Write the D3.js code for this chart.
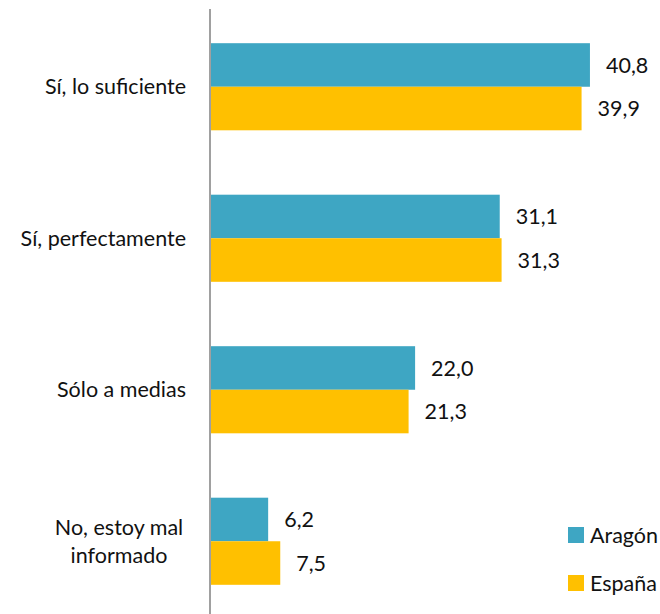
<!DOCTYPE html>
<html><head><meta charset="utf-8">
<script src="https://cdn.jsdelivr.net/npm/d3@7"></script>
<style>body{margin:0;background:#fff}svg{display:block}text{font-family:Lato,"Open Sans",sans-serif;fill:#111}</style>
</head><body>
<script>
const categories = [["Sí, lo suficiente"], ["Sí, perfectamente"], ["Sólo a medias"], ["No, estoy mal", "informado"]];
const series = ["Aragón", "España"];
const aragon = [40.8, 31.1, 22.0, 6.2];
const espana = [39.9, 31.3, 21.3, 7.5];
const colors = ["#3ea6c3", "#ffc000"];

const W = 660, H = 614, FS = 21.5;
const svg = d3.select("body").append("svg").attr("width", W).attr("height", H);
const keys = categories.map(c => c.join(" "));
const y = d3.scaleBand().domain(keys).range([11, 617]).paddingInner(0.425).paddingOuter(0.2125);
const ySub = d3.scaleBand().domain(series).range([0, y.bandwidth()]);
const x = d3.scaleLinear().domain([0, 45]).range([210.5, 210.5 + 45 * 9.3]);
const fmt = v => d3.format(".1f")(v).replace(".", ",");

const data = [];
keys.forEach((k, i) => {
  data.push({k, s: "Aragón", v: aragon[i], c: colors[0]});
  data.push({k, s: "España", v: espana[i], c: colors[1]});
});

const g = svg.append("g");
g.selectAll("rect").data(data).join("rect")
  .attr("x", x(0)).attr("y", d => y(d.k) + ySub(d.s))
  .attr("width", d => x(d.v) - x(0)).attr("height", ySub.bandwidth())
  .attr("fill", d => d.c);
g.selectAll("text.val").data(data).join("text").attr("class", "val")
  .attr("x", d => x(d.v) + 16).attr("y", d => y(d.k) + ySub(d.s) + ySub.bandwidth() / 2)
  .attr("dy", "0.36em").attr("font-size", FS).text(d => fmt(d.v));

svg.append("line").attr("x1", 210).attr("x2", 210).attr("y1", 9).attr("y2", H)
  .attr("stroke", "#a0a0a0").attr("stroke-width", 2);

categories.forEach((lines, i) => {
  const cy = y(keys[i]) + y.bandwidth() / 2;
  const multi = lines.length > 1;
  const t = svg.append("text").attr("font-size", FS)
    .attr("text-anchor", multi ? "middle" : "end");
  lines.forEach((l, j) => {
    t.append("tspan").attr("x", multi ? 119 : 186)
      .attr("y", cy + (j - (lines.length - 1) / 2) * 28).attr("dy", "0.36em").text(l);
  });
});

const leg = svg.append("g");
series.forEach((s, i) => {
  const ly = 535 + i * 48;
  leg.append("rect").attr("x", 568).attr("y", ly - 8).attr("width", 16).attr("height", 16).attr("fill", colors[i]);
  leg.append("text").attr("x", 590).attr("y", ly).attr("dy", "0.36em").attr("font-size", FS).text(s);
});
</script>
</body></html>
